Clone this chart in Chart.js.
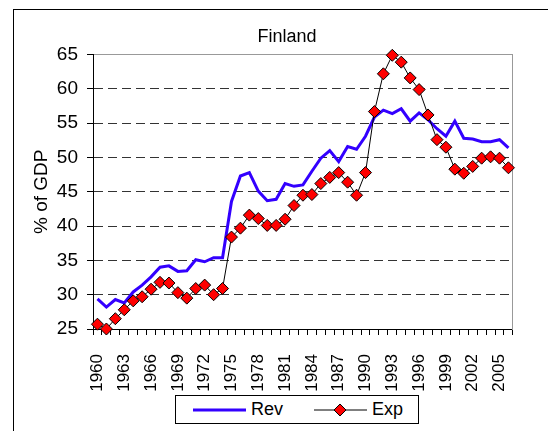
<!DOCTYPE html>
<html>
<head>
<meta charset="utf-8">
<title>Finland</title>
<script src="https://cdn.jsdelivr.net/npm/chart.js@4.4.1/dist/chart.umd.min.js"></script>
<style>
  body { margin: 0; background: #fff; }
  #wrap { position: relative; width: 548px; height: 431px; overflow: hidden; font-family: "Liberation Sans", Arial, sans-serif; }
  #frame { position: absolute; left: 13px; top: 9px; width: 600px; height: 500px; border-left: 1px solid #000; border-top: 1px solid #000; }
  #chart { position: absolute; left: 0; top: 0; }
  #legend { position: absolute; left: 175px; top: 395px; width: 225px; height: 27px; padding-left: 17px;
            border: 1px solid #000; background: #fff; display: flex; align-items: center; font-size: 18px; color: #000; }
  #legend .item { display: flex; align-items: center; }
  #legend .item svg { margin-right: 5px; }
</style>
</head>
<body>
<div id="wrap">
  <div id="frame"></div>
  <canvas id="chart" width="548" height="431"></canvas>
  <div id="legend"></div>
</div>
<script>
// --- 핀란드 세입/세출 (% of GDP) ---

const years = [1960, 1961, 1962, 1963, 1964, 1965, 1966, 1967, 1968, 1969,
               1970, 1971, 1972, 1973, 1974, 1975, 1976, 1977, 1978, 1979,
               1980, 1981, 1982, 1983, 1984, 1985, 1986, 1987, 1988, 1989,
               1990, 1991, 1992, 1993, 1994, 1995, 1996, 1997, 1998, 1999,
               2000, 2001, 2002, 2003, 2004, 2005, 2006];

// 세입 (Rev)
const revValues = [29.4, 28.2, 29.3, 28.8, 30.4, 31.4, 32.6, 34.0, 34.2, 33.4,
                   33.5, 35.1, 34.8, 35.4, 35.4, 43.6, 47.3, 47.8, 45.1, 43.7,
                   43.9, 46.2, 45.8, 46.0, 48.0, 49.9, 51.0, 49.4, 51.6, 51.2,
                   53.1, 55.9, 56.9, 56.4, 57.1, 55.3, 56.5, 55.5, 54.2, 53.1,
                   55.3, 52.8, 52.7, 52.3, 52.3, 52.6, 51.4];

// 세출 (Exp)
const expValues = [25.7, 25.0, 26.5, 27.8, 29.1, 29.7, 30.8, 31.8, 31.7, 30.3,
                   29.5, 30.9, 31.4, 30.0, 30.9, 38.4, 39.7, 41.6, 41.1, 40.1,
                   40.1, 41.0, 43.0, 44.5, 44.6, 46.2, 47.1, 47.8, 46.4, 44.5,
                   47.8, 56.7, 62.2, 64.9, 63.9, 61.6, 59.9, 56.2, 52.6, 51.5,
                   48.3, 47.7, 48.7, 49.9, 50.1, 49.9, 48.5];

// x축에 보이는 연도 라벨 (3년 간격)
const yearTicks = ['1960', '1963', '1966', '1969', '1972', '1975', '1978', '1981',
                   '1984', '1987', '1990', '1993', '1996', '1999', '2002', '2005'];

Chart.defaults.font.family = '"Liberation Sans", Arial, sans-serif';
Chart.defaults.color = '#000';

// 제목을 엑셀 차트 영역 가운데쯤으로 옮김
const shiftTitle = {
    id: 'shiftTitle',
    afterLayout(chart) {
        chart.titleBlock.left += 20;
        chart.titleBlock.right += 20;
    }
};

// 범례는 HTML로 (선 + 마커 같이 보여주려고)
const htmlLegend = {
    id: 'htmlLegend',
    afterUpdate(chart) {
        const box = document.getElementById('legend');
        box.innerHTML = '';
        chart.data.datasets.forEach((ds, i) => {
            const item = document.createElement('div');
            item.className = 'item';
            if (i === 0) item.style.marginRight = '31px';
            let svg = '<svg width="53" height="14">' +
                `<line x1="0" y1="7" x2="53" y2="7" stroke="${ds.borderColor}" stroke-width="${ds.borderWidth}"/>`;
            if (ds.pointRadius > 0) {
                svg += `<polygon points="26,1 32,7 26,13 20,7" fill="${ds.pointBackgroundColor}" stroke="${ds.pointBorderColor}" stroke-width="1"/>`;
            }
            svg += '</svg>';
            item.innerHTML = svg + '<span>' + ds.label + '</span>';
            box.appendChild(item);
        });
    }
};

const ctx = document.getElementById('chart').getContext('2d');
new Chart(ctx, {
    type: 'line',
    data: {
        labels: years.map(String),
        datasets: [{
            label: 'Rev',
            data: revValues,
            borderColor: '#3300ff',
            borderWidth: 3,
            pointRadius: 0,
            tension: 0,
            order: 2
        }, {
            label: 'Exp',
            data: expValues,
            borderColor: '#000000',
            borderWidth: 1,
            pointStyle: 'rectRot',
            pointRadius: 6,
            pointBackgroundColor: '#ff0000',
            pointBorderColor: '#000000',
            pointBorderWidth: 1,
            tension: 0,
            clip: false,
            order: 1
        }]
    },
    options: {
        responsive: false,
        animation: false,
        layout: { padding: { left: 0, right: 14, top: 16, bottom: 0 } },
        plugins: {
            legend: { display: false },
            tooltip: { enabled: false },
            title: {
                display: true,
                text: 'Finland',
                color: '#000',
                font: { size: 18, weight: 'normal' },
                padding: { top: 10, bottom: 7 }
            }
        },
        scales: {
            x: {
                offset: true,
                grid: { offset: true, drawOnChartArea: false, tickLength: 6, color: '#000', tickColor: '#000' },
                border: { color: '#000', width: 1 },
                ticks: {
                    autoSkip: false,
                    minRotation: 90,
                    maxRotation: 90,
                    padding: 19,
                    color: '#000',
                    font: { size: 17 },
                    callback(value) {
                        const lbl = this.getLabelForValue(value);
                        return yearTicks.includes(lbl) ? lbl : '';
                    }
                },
                afterFit(scale) { scale.height = 102; }
            },
            y: {
                min: 25,
                max: 65,
                ticks: { stepSize: 5, padding: 9, color: '#000', font: { size: 19 } },
                grid: {
                    color: c => (c.tick && c.tick.value === 65) ? '#999' : '#333',
                    tickLength: 6,
                    tickColor: '#000'
                },
                border: {
                    color: '#000',
                    dash: c => (c.tick && c.tick.value === 65) ? [] : [9, 5]
                },
                title: {
                    display: true,
                    text: '% of GDP',
                    color: '#000',
                    font: { size: 19 },
                    padding: { top: 30, bottom: 0 }
                },
                afterFit(scale) { scale.width = 93; }
            },
            y2: {
                type: 'linear',
                position: 'right',
                grid: { drawOnChartArea: false, drawTicks: false },
                ticks: { display: false },
                border: { color: '#999' },
                afterFit(scale) { scale.width = 0; }
            }
        }
    },
    plugins: [shiftTitle, htmlLegend]
});
</script>
</body>
</html>
